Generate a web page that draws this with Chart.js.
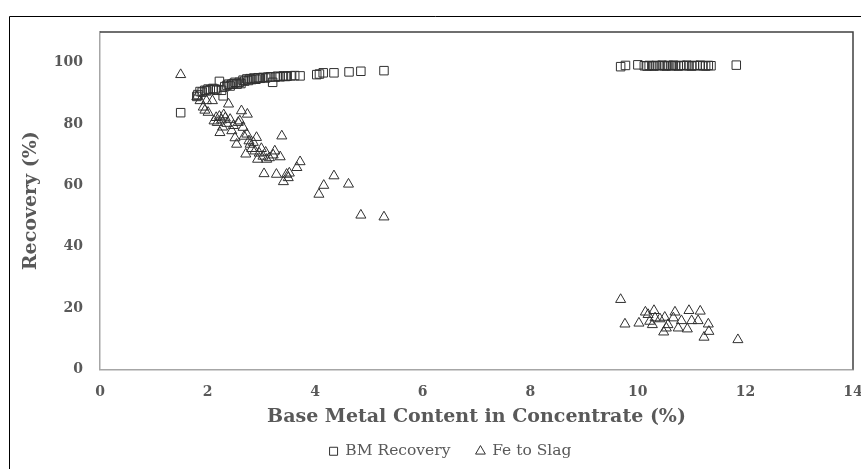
<!DOCTYPE html>
<html>
<head>
<meta charset="utf-8">
<script src="https://cdn.jsdelivr.net/npm/chart.js@4"></script>
<style>
  html, body { margin: 0; padding: 0; background: #fff; }
  #wrap { width: 861px; height: 469px; }
</style>
</head>
<body>
<div id="wrap"><canvas id="c" width="861" height="469"></canvas></div>
<script>
// ---- data ----
const bmX = [1.50,1.80,1.82,1.86,1.90,1.95,1.98,2.01,2.05,2.10,2.14,2.17,2.22,2.26,2.29,2.32,2.36,2.39,2.42,2.45,2.48,2.51,2.55,2.59,2.62,2.66,2.69,2.73,2.76,2.79,2.82,2.86,2.90,2.94,2.98,3.03,3.08,3.12,3.17,3.21,3.26,3.30,3.35,3.41,3.45,3.48,3.55,3.62,3.72,4.03,4.08,4.15,4.35,4.63,4.85,5.28,
  9.68,9.77,10.00,10.12,10.17,10.21,10.26,10.30,10.34,10.40,10.45,10.49,10.53,10.57,10.62,10.66,10.70,10.75,10.80,10.86,10.91,10.95,11.00,11.05,11.10,11.16,11.21,11.26,11.31,11.36,11.83];
const bmY = [83.7,89.0,89.6,90.6,90.4,91.0,90.8,91.4,91.2,91.6,91.4,91.0,93.9,91.0,89.2,92.2,92.6,93.0,92.4,93.0,93.2,93.6,93.0,93.6,93.2,94.3,94.0,94.7,94.2,94.8,94.5,95.0,94.6,95.1,94.9,95.2,95.0,95.3,95.4,93.6,95.3,95.6,95.4,95.7,95.5,95.6,95.7,95.8,95.7,96.1,96.3,96.7,96.7,97.0,97.2,97.4,
  98.7,99.1,99.3,99.0,98.9,99.1,99.0,98.9,99.1,99.0,99.2,99.0,98.9,99.1,99.0,99.2,99.0,98.9,99.1,99.0,99.2,99.0,98.9,99.1,99.0,99.2,99.0,98.9,99.1,99.0,99.2];
const feX = [1.50,1.80,1.86,1.92,1.95,1.98,2.01,2.09,2.12,2.16,2.18,2.22,2.23,2.26,2.28,2.30,2.33,2.36,2.39,2.42,2.45,2.48,2.51,2.54,2.57,2.60,2.63,2.66,2.68,2.71,2.73,2.74,2.77,2.79,2.82,2.85,2.88,2.91,2.93,2.96,3.00,3.03,3.05,3.08,3.10,3.15,3.22,3.25,3.28,3.35,3.38,3.41,3.47,3.50,3.52,3.66,3.72,4.07,4.16,4.35,4.62,4.85,5.28,
  9.68,9.76,10.02,10.14,10.19,10.22,10.27,10.30,10.32,10.41,10.48,10.50,10.53,10.56,10.66,10.69,10.75,10.81,10.92,10.95,11.00,11.12,11.16,11.23,11.31,11.32,11.86];
const feY = [96.1,88.9,87.6,85.5,84.5,87.6,83.8,87.6,81.0,82.1,80.5,82.5,77.2,81.3,79.0,83.0,82.0,80.2,86.5,81.5,77.8,79.5,75.5,73.4,80.5,81.0,84.3,78.9,76.0,70.2,76.7,83.2,74.5,73.4,72.0,74.0,71.2,75.6,68.5,70.5,72.0,69.5,63.8,70.8,68.5,69.0,69.9,71.2,63.6,69.3,76.1,61.2,63.6,62.5,64.0,65.8,67.7,57.1,60.0,63.1,60.4,50.3,49.7,
  22.8,14.8,15.1,18.7,17.9,15.7,14.6,19.2,16.8,16.5,12.2,17.0,13.5,14.6,16.8,18.7,13.5,15.9,13.2,19.2,15.9,15.9,19.0,10.5,14.8,12.4,9.7];
const xTicks = [0,2,4,6,8,10,12,14];
const yTicks = [0,20,40,60,80,100];
const seriesNames = ['BM Recovery','Fe to Slag'];

const pts = (xs, ys) => xs.map((x, i) => ({x: x, y: ys[i]}));
const FONT = "'DejaVu Serif', serif";
const GREY = '#595959';

const framePlugin = {
  id: 'frame',
  afterLayout(chart) {
    if (chart.legend) { chart.legend.left += 15; chart.legend.right += 15; }
  },
  afterDraw(chart) {
    const ctx = chart.ctx, a = chart.chartArea;
    ctx.save();
    ctx.strokeStyle = '#000';
    ctx.lineWidth = 1;
    ctx.beginPath();
    ctx.moveTo(9.5, 469); ctx.lineTo(9.5, 16.5); ctx.lineTo(861, 16.5);
    ctx.stroke();
    ctx.strokeStyle = '#404040';
    ctx.lineWidth = 1.5;
    ctx.beginPath();
    ctx.moveTo(a.left, a.top); ctx.lineTo(a.right, a.top); ctx.lineTo(a.right, a.bottom);
    ctx.stroke();
    ctx.restore();
  }
};

new Chart(document.getElementById('c'), {
  type: 'scatter',
  data: {
    datasets: [
      { label: seriesNames[0], data: pts(bmX, bmY), pointStyle: 'rect', pointRadius: 6,
        borderColor: '#303030', backgroundColor: 'rgba(0,0,0,0)', borderWidth: 1 },
      { label: seriesNames[1], data: pts(feX, feY), pointStyle: 'triangle', pointRadius: 5.8,
        borderColor: '#303030', backgroundColor: 'rgba(0,0,0,0)', borderWidth: 1 }
    ]
  },
  options: {
    responsive: false,
    animation: false,
    devicePixelRatio: 1,
    layout: { padding: { left: 18, right: 8, top: 32, bottom: 0 } },
    plugins: {
      tooltip: { enabled: false },
      legend: {
        position: 'bottom',
        labels: {
          usePointStyle: true, boxWidth: 8, boxHeight: 8, padding: 26,
          color: GREY, font: { family: FONT, size: 15.5 }
        }
      }
    },
    scales: {
      x: {
        type: 'linear', min: 0, max: 14,
        afterBuildTicks: s => { s.ticks = xTicks.map(v => ({value: v})); },
        afterFit: s => { s.height = 48; s.paddingLeft = 0; s.paddingRight = 0; },
        grid: { display: false, drawTicks: false, tickLength: 0 },
        border: { display: true, color: '#A6A6A6', width: 1.5 },
        ticks: { color: GREY, padding: 14, maxRotation: 0, font: { family: FONT, size: 14, weight: 'bold' } },
        title: { display: true, text: 'Base Metal Content in Concentrate (%)', color: GREY,
          padding: { top: 4, bottom: -11 }, font: { family: FONT, size: 19, weight: 'bold' } }
      },
      y: {
        type: 'linear', min: 0, max: 110,
        afterBuildTicks: s => { s.ticks = yTicks.map(v => ({value: v})); },
        afterFit: s => { s.width = 82; s.paddingTop = 0; s.paddingBottom = 0; },
        grid: { display: false, drawTicks: false, tickLength: 0 },
        border: { display: true, color: '#A6A6A6', width: 1.5 },
        ticks: { color: GREY, padding: 17, font: { family: FONT, size: 14, weight: 'bold' } },
        title: { display: true, text: 'Recovery (%)', color: GREY,
          padding: { top: 2, bottom: 2 }, font: { family: FONT, size: 19, weight: 'bold' } }
      }
    }
  },
  plugins: [framePlugin]
});
</script>
</body>
</html>
